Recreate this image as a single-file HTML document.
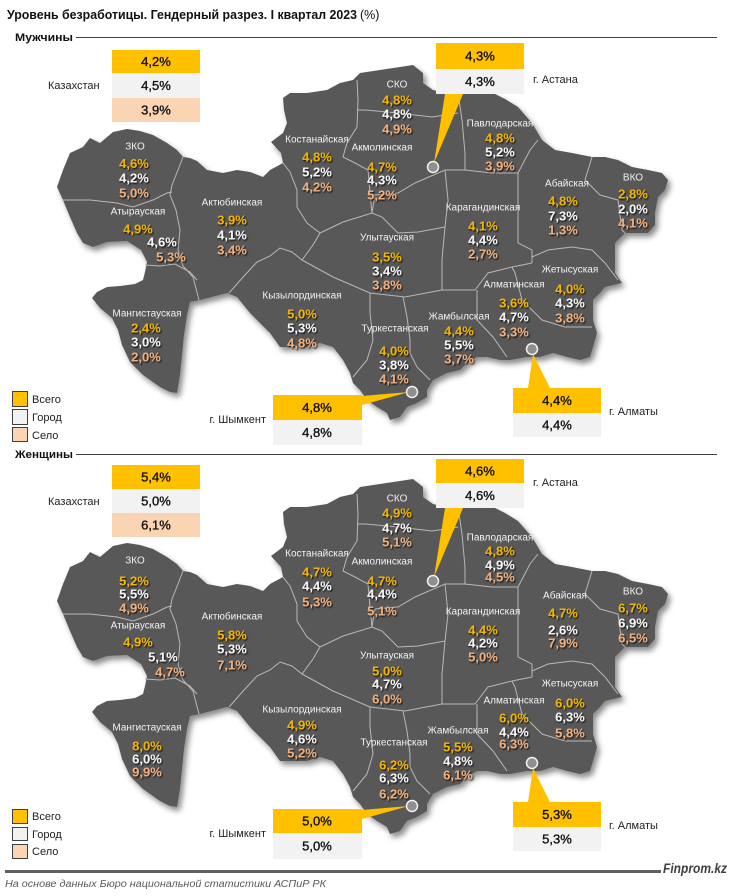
<!DOCTYPE html>
<html><head><meta charset="utf-8">
<style>
html,body{margin:0;padding:0;background:#fff;}
svg{display:block;}
.nm{font-family:"Liberation Sans",sans-serif;font-size:10px;fill:#f2f2f2;text-anchor:middle;}
.v{font-family:"Liberation Sans",sans-serif;font-size:13px;font-weight:bold;text-anchor:middle;}
.y{fill:#F2B400;}
.w{fill:#F4F4F4;}
.p{fill:#F0AE7C;}
.bx{font-family:"Liberation Sans",sans-serif;font-size:13px;fill:#111;stroke:#111;stroke-width:0.35;text-anchor:middle;}
.lb{font-family:"Liberation Sans",sans-serif;font-size:11px;fill:#222;}
.bd{fill:none;stroke:#b8b8b8;stroke-width:1;}
</style></head>
<body>
<svg width="731" height="896" viewBox="0 0 731 896" xmlns="http://www.w3.org/2000/svg">
<defs>
<filter id="sh" x="-10%" y="-10%" width="125%" height="125%">
<feDropShadow dx="3" dy="4" stdDeviation="3" flood-color="#000" flood-opacity="0.45"/>
</filter>
<filter id="ts" x="-20%" y="-30%" width="150%" height="170%">
<feDropShadow dx="1" dy="1.2" stdDeviation="0.9" flood-color="#000" flood-opacity="0.85"/>
</filter>
<g id="map">
<path filter="url(#sh)" fill="#595959" d="M113,132 L127,129 L140,131 L153,135 L167,143 L177,150 L183,157 L190,158 L197,161 L207,170 L223,173 L237,170 L250,172 L263,177 L270,170 L283,163 L281,153 L271,142 L283,133 L287,123 L284,110 L283,98 L290,93 L307,93 L327,90 L340,83 L353,80 L360,73 L380,70 L400,67 L413,65 L423,73 L423,83 L433,90 L445,93 L460,90 L477,90 L493,93 L505,99 L518,107 L532,123 L542,140 L555,150 L572,153 L592,157 L605,157 L618,160 L632,167 L648,170 L662,173 L668,180 L665,190 L658,197 L655,213 L655,225 L648,233 L625,233 L615,243 L615,273 L622,283 L605,287 L600,293 L593,300 L593,320 L597,333 L593,347 L590,357 L580,360 L567,357 L553,353 L540,357 L527,357 L510,360 L500,360 L487,357 L477,357 L467,363 L460,370 L447,373 L433,380 L427,390 L427,397 L417,403 L407,407 L400,417 L390,420 L387,413 L377,407 L367,400 L360,390 L353,383 L350,373 L343,360 L333,347 L320,343 L307,347 L280,347 L270,333 L250,313 L237,297 L227,293 L200,300 L190,302 L187,315 L184,335 L182,355 L180,375 L177,393 L170,392 L160,387 L143,375 L130,362 L122,345 L118,330 L112,318 L100,308 L92,298 L97,292 L107,287 L120,286 L135,284 L143,280 L145,272 L147,262 L141,250 L127,241 L107,242 L93,247 L83,243 L77,233 L70,217 L63,200 L57,187 L63,170 L70,153 L83,147 L90,138 L100,143 Z"/>
<polyline class="bd" points="63,200 90,200 117,203 133,207 153,200 167,193 172,192"/>
<polyline class="bd" points="183,157 178,170 172,185 170,195 176,210 180,230 178,250 183,266 193,277 199,300"/>
<polyline class="bd" points="145,265 160,266 175,264 190,272 197,280"/>
<polyline class="bd" points="283,163 290,172 297,190 297,207 307,223 320,233"/>
<polyline class="bd" points="229,293 245,275 257,262 270,256 280,248 292,252 302,260 313,245 320,233"/>
<polyline class="bd" points="357,80 358,100 357,127 347,143 343,157 355,163 368,170 370,193 372,213"/>
<polyline class="bd" points="320,233 343,222 372,213 382,217 398,233 418,232 445,227"/>
<polyline class="bd" points="302,260 333,277 370,293 405,297 442,290 475,290"/>
<polyline class="bd" points="445,227 442,260 442,290"/>
<polyline class="bd" points="372,213 375,195 398,193 415,183 445,170 465,170 492,173 518,173"/>
<polyline class="bd" points="445,170 448,200 445,227"/>
<polyline class="bd" points="370,293 370,313 373,340 367,360 353,377"/>
<polyline class="bd" points="403,297 407,317 410,340 410,353 417,367 430,380"/>
<polyline class="bd" points="477,290 477,320 493,337 507,357"/>
<polyline class="bd" points="475,290 488,273 512,267 532,263"/>
<polyline class="bd" points="532,263 532,250 518,243 518,220 518,173"/>
<polyline class="bd" points="518,173 530,150 538,140"/>
<polyline class="bd" points="532,257 548,250 572,247 592,250 605,263 618,280"/>
<polyline class="bd" points="512,267 515,273 522,300 542,320 565,327 592,327"/>
<polyline class="bd" points="592,157 585,180 600,195 618,200 622,230 625,233"/>
<polyline class="bd" points="357,110 365,110 398,113 432,117 458,113"/>
<polyline class="bd" points="458,93 462,120 465,153 465,170"/>
</g>
</defs>

<!-- Title -->
<text x="7" y="19" font-family="Liberation Sans, sans-serif" font-size="12.5" font-weight="bold" fill="#111" textLength="350" lengthAdjust="spacingAndGlyphs">Уровень безработицы. Гендерный разрез. I квартал 2023</text>
<text x="360" y="19" font-family="Liberation Sans, sans-serif" font-size="12.5" fill="#111">(%)</text>

<!-- Section headers -->
<text x="15" y="41" font-family="Liberation Sans, sans-serif" font-size="11" font-weight="bold" fill="#111" textLength="58" lengthAdjust="spacingAndGlyphs">Мужчины</text>
<line x1="76" y1="37.5" x2="717" y2="37.5" stroke="#404040" stroke-width="1"/>
<text x="15" y="458" font-family="Liberation Sans, sans-serif" font-size="11" font-weight="bold" fill="#111" textLength="58" lengthAdjust="spacingAndGlyphs">Женщины</text>
<line x1="76" y1="454.5" x2="717" y2="454.5" stroke="#404040" stroke-width="1"/>

<!-- Maps -->
<use href="#map"/>
<use href="#map" y="414"/>

<!-- TOP MAP labels -->
<g class="nm">
<text x="135" y="149.6">ЗКО</text>
<text x="138" y="214.6">Атырауская</text>
<text x="232" y="205.6">Актюбинская</text>
<text x="147" y="316.6">Мангистауская</text>
<text x="317" y="142.6">Костанайская</text>
<text x="302" y="298.6">Кызылординская</text>
<text x="397" y="87.6">СКО</text>
<text x="382" y="150.6">Акмолинская</text>
<text x="500" y="126.6">Павлодарская</text>
<text x="567" y="186.6">Абайская</text>
<text x="633" y="180.6">ВКО</text>
<text x="483" y="210.6">Карагандинская</text>
<text x="387" y="240.6">Улытауская</text>
<text x="570" y="272.6">Жетысуская</text>
<text x="514" y="287.6">Алматинская</text>
<text x="459" y="319.6">Жамбылская</text>
<text x="395" y="331.6">Туркестанская</text>
</g>
<g class="v" filter="url(#ts)">
<text class="y" x="134" y="168">4,6%</text><text class="w" x="134" y="182.5">4,2%</text><text class="p" x="134" y="197.5">5,0%</text>
<text class="y" x="138" y="233.5">4,9%</text><text class="w" x="162" y="246.5">4,6%</text><text class="p" x="171" y="261.5">5,3%</text>
<text class="y" x="232" y="224.5">3,9%</text><text class="w" x="232" y="239.5">4,1%</text><text class="p" x="232" y="254.5">3,4%</text>
<text class="y" x="146" y="332.5">2,4%</text><text class="w" x="146" y="346.5">3,0%</text><text class="p" x="146" y="361.5">2,0%</text>
<text class="y" x="317" y="161.5">4,8%</text><text class="w" x="317" y="176.5">5,2%</text><text class="p" x="317" y="191.5">4,2%</text>
<text class="y" x="302" y="318.5">5,0%</text><text class="w" x="302" y="332.5">5,3%</text><text class="p" x="302" y="347.5">4,8%</text>
<text class="y" x="397" y="104.5">4,8%</text><text class="w" x="397" y="118.5">4,8%</text><text class="p" x="397" y="133.5">4,9%</text>
<text class="y" x="382" y="171.5">4,7%</text><text class="w" x="382" y="184.5">4,3%</text><text class="p" x="382" y="199.5">5,2%</text>
<text class="y" x="500" y="142.5">4,8%</text><text class="w" x="500" y="156.5">5,2%</text><text class="p" x="500" y="170.5">3,9%</text>
<text class="y" x="563" y="205.5">4,8%</text><text class="w" x="563" y="220.5">7,3%</text><text class="p" x="563" y="234.5">1,3%</text>
<text class="y" x="633" y="198.5">2,8%</text><text class="w" x="633" y="213.5">2,0%</text><text class="p" x="633" y="227.5">4,1%</text>
<text class="y" x="483" y="230.5">4,1%</text><text class="w" x="483" y="244.5">4,4%</text><text class="p" x="483" y="258.5">2,7%</text>
<text class="y" x="387" y="261.5">3,5%</text><text class="w" x="387" y="275.5">3,4%</text><text class="p" x="387" y="289.5">3,8%</text>
<text class="y" x="570" y="293.5">4,0%</text><text class="w" x="570" y="307.5">4,3%</text><text class="p" x="570" y="322.5">3,8%</text>
<text class="y" x="514" y="307.5">3,6%</text><text class="w" x="514" y="321.5">4,7%</text><text class="p" x="514" y="336.5">3,3%</text>
<text class="y" x="459" y="335.5">4,4%</text><text class="w" x="459" y="349.5">5,5%</text><text class="p" x="459" y="363.5">3,7%</text>
<text class="y" x="394" y="355.5">4,0%</text><text class="w" x="394" y="369.5">3,8%</text><text class="p" x="394" y="383.5">4,1%</text>
</g>

<!-- BOTTOM MAP labels -->
<g class="nm">
<text x="135" y="563.6">ЗКО</text>
<text x="138" y="628.6">Атырауская</text>
<text x="232" y="619.6">Актюбинская</text>
<text x="147" y="730.6">Мангистауская</text>
<text x="317" y="556.6">Костанайская</text>
<text x="302" y="712.6">Кызылординская</text>
<text x="397" y="501.6">СКО</text>
<text x="382" y="564.6">Акмолинская</text>
<text x="500" y="540.6">Павлодарская</text>
<text x="565" y="598.6">Абайская</text>
<text x="633" y="594.6">ВКО</text>
<text x="483" y="614.6">Карагандинская</text>
<text x="387" y="658.6">Улытауская</text>
<text x="570" y="686.6">Жетысуская</text>
<text x="514" y="703.6">Алматинская</text>
<text x="458" y="733.6">Жамбылская</text>
<text x="394" y="745.6">Туркестанская</text>
</g>
<g class="v" filter="url(#ts)">
<text class="y" x="134" y="585.5">5,2%</text><text class="w" x="134" y="598.5">5,5%</text><text class="p" x="134" y="612.5">4,9%</text>
<text class="y" x="138" y="646.5">4,9%</text><text class="w" x="163" y="661.5">5,1%</text><text class="p" x="170" y="676.5">4,7%</text>
<text class="y" x="232" y="639.5">5,8%</text><text class="w" x="232" y="653.5">5,3%</text><text class="p" x="232" y="669.5">7,1%</text>
<text class="y" x="147" y="750.5">8,0%</text><text class="w" x="147" y="763.5">6,0%</text><text class="p" x="147" y="776.5">9,9%</text>
<text class="y" x="317" y="576.5">4,7%</text><text class="w" x="317" y="590.5">4,4%</text><text class="p" x="317" y="606.5">5,3%</text>
<text class="y" x="302" y="729.5">4,9%</text><text class="w" x="302" y="743.5">4,6%</text><text class="p" x="302" y="757.5">5,2%</text>
<text class="y" x="397" y="517.5">4,9%</text><text class="w" x="397" y="532.5">4,7%</text><text class="p" x="397" y="546.5">5,1%</text>
<text class="y" x="382" y="585.5">4,7%</text><text class="w" x="382" y="598.5">4,4%</text><text class="p" x="382" y="615.5">5,1%</text>
<text class="y" x="500" y="555.5">4,8%</text><text class="w" x="500" y="569.5">4,9%</text><text class="p" x="500" y="581.5">4,5%</text>
<text class="y" x="563" y="617.5">4,7%</text><text class="w" x="563" y="634.5">2,6%</text><text class="p" x="563" y="647.5">7,9%</text>
<text class="y" x="633" y="612.5">6,7%</text><text class="w" x="633" y="627.5">6,9%</text><text class="p" x="633" y="642.5">6,5%</text>
<text class="y" x="483" y="634.5">4,4%</text><text class="w" x="483" y="647.5">4,2%</text><text class="p" x="483" y="661.5">5,0%</text>
<text class="y" x="387" y="675.5">5,0%</text><text class="w" x="387" y="688.5">4,7%</text><text class="p" x="387" y="703.5">6,0%</text>
<text class="y" x="570" y="707.5">6,0%</text><text class="w" x="570" y="721.5">6,3%</text><text class="p" x="570" y="737.5">5,8%</text>
<text class="y" x="514" y="722.5">6,0%</text><text class="w" x="514" y="736.5">4,4%</text><text class="p" x="514" y="748.5">6,3%</text>
<text class="y" x="458" y="751.5">5,5%</text><text class="w" x="458" y="765.5">4,8%</text><text class="p" x="458" y="779.5">6,1%</text>
<text class="y" x="394" y="769.5">6,2%</text><text class="w" x="394" y="782.5">6,3%</text><text class="p" x="394" y="798.5">6,2%</text>
</g>

<!-- Pointers and dots top -->
<polygon points="445,94 463,94 434,163" fill="#FFC000"/>
<polygon points="362,396 362,405 409,392" fill="#FFC000"/>
<polygon points="528,388 550,388 533,354" fill="#FFC000"/>
<circle cx="433" cy="167" r="5.5" fill="#8f8f8f" stroke="#f2f2f2" stroke-width="1.5"/>
<circle cx="412" cy="392" r="5.5" fill="#8f8f8f" stroke="#f2f2f2" stroke-width="1.5"/>
<circle cx="532" cy="349" r="5.5" fill="#8f8f8f" stroke="#f2f2f2" stroke-width="1.5"/>
<!-- Pointers and dots bottom -->
<polygon points="445,508 463,508 434,577" fill="#FFC000"/>
<polygon points="362,810 362,819 409,806" fill="#FFC000"/>
<polygon points="528,802 550,802 533,768" fill="#FFC000"/>
<circle cx="433" cy="581" r="5.5" fill="#8f8f8f" stroke="#f2f2f2" stroke-width="1.5"/>
<circle cx="412" cy="806" r="5.5" fill="#8f8f8f" stroke="#f2f2f2" stroke-width="1.5"/>
<circle cx="532" cy="763" r="5.5" fill="#8f8f8f" stroke="#f2f2f2" stroke-width="1.5"/>

<!-- TOP boxes -->
<rect x="112" y="50" width="88" height="23" fill="#FFC000"/>
<rect x="112" y="73" width="88" height="25" fill="#F2F2F2"/>
<rect x="112" y="98" width="88" height="24" fill="#FBD4B4"/>
<text class="bx" x="156" y="66">4,2%</text>
<text class="bx" x="156" y="90">4,5%</text>
<text class="bx" x="156" y="114.5">3,9%</text>
<text class="lb" x="48" y="89">Казахстан</text>

<rect x="436" y="43" width="88" height="26" fill="#FFC000"/>
<rect x="436" y="69" width="88" height="25" fill="#F2F2F2"/>
<text class="bx" x="480" y="60.5">4,3%</text>
<text class="bx" x="480" y="86">4,3%</text>
<text class="lb" x="533" y="83">г. Астана</text>

<rect x="273" y="395" width="89" height="25" fill="#FFC000"/>
<rect x="273" y="420" width="89" height="25" fill="#F2F2F2"/>
<text class="bx" x="317" y="412">4,8%</text>
<text class="bx" x="317" y="437">4,8%</text>
<text class="lb" x="266" y="423" text-anchor="end">г. Шымкент</text>

<rect x="513" y="388" width="88" height="25" fill="#FFC000"/>
<rect x="513" y="413" width="88" height="24" fill="#F2F2F2"/>
<text class="bx" x="557" y="405">4,4%</text>
<text class="bx" x="557" y="429.5">4,4%</text>
<text class="lb" x="609" y="415">г. Алматы</text>

<!-- BOTTOM boxes -->
<rect x="112" y="465" width="88" height="24" fill="#FFC000"/>
<rect x="112" y="489" width="88" height="24" fill="#F2F2F2"/>
<rect x="112" y="513" width="88" height="24" fill="#FBD4B4"/>
<text class="bx" x="156" y="481.5">5,4%</text>
<text class="bx" x="156" y="505.5">5,0%</text>
<text class="bx" x="156" y="529.5">6,1%</text>
<text class="lb" x="48" y="505">Казахстан</text>

<rect x="436" y="459" width="88" height="24" fill="#FFC000"/>
<rect x="436" y="483" width="88" height="25" fill="#F2F2F2"/>
<text class="bx" x="480" y="475.5">4,6%</text>
<text class="bx" x="480" y="500">4,6%</text>
<text class="lb" x="533" y="486">г. Астана</text>

<rect x="273" y="809" width="89" height="24" fill="#FFC000"/>
<rect x="273" y="833" width="89" height="26" fill="#F2F2F2"/>
<text class="bx" x="317" y="825.5">5,0%</text>
<text class="bx" x="317" y="850.5">5,0%</text>
<text class="lb" x="266" y="837" text-anchor="end">г. Шымкент</text>

<rect x="513" y="802" width="88" height="25" fill="#FFC000"/>
<rect x="513" y="827" width="88" height="24" fill="#F2F2F2"/>
<text class="bx" x="557" y="819">5,3%</text>
<text class="bx" x="557" y="843.5">5,3%</text>
<text class="lb" x="609" y="829">г. Алматы</text>

<!-- Legends -->
<rect x="12.5" y="391.5" width="15" height="15" fill="#FFC000" stroke="#404040"/>
<rect x="12.5" y="409.5" width="15" height="15" fill="#F2F2F2" stroke="#404040"/>
<rect x="12.5" y="427.5" width="15" height="14" fill="#FBD4B4" stroke="#404040"/>
<text class="lb" x="32" y="403">Всего</text>
<text class="lb" x="32" y="421">Город</text>
<text class="lb" x="32" y="439">Село</text>

<rect x="12.5" y="809.5" width="15" height="14" fill="#FFC000" stroke="#404040"/>
<rect x="12.5" y="827.5" width="15" height="13" fill="#F2F2F2" stroke="#404040"/>
<rect x="12.5" y="844.5" width="15" height="14" fill="#FBD4B4" stroke="#404040"/>
<text class="lb" x="32" y="820">Всего</text>
<text class="lb" x="32" y="838">Город</text>
<text class="lb" x="32" y="855">Село</text>

<!-- Footer -->
<line x1="5" y1="871.5" x2="661" y2="871.5" stroke="#606060" stroke-width="3"/>
<text x="663" y="873" font-family="Liberation Sans, sans-serif" font-size="14" font-weight="bold" font-style="italic" fill="#404040" textLength="64" lengthAdjust="spacingAndGlyphs">Finprom.kz</text>
<text x="5" y="887" font-family="Liberation Sans, sans-serif" font-size="10.5" font-style="italic" fill="#595959" textLength="321" lengthAdjust="spacingAndGlyphs">На основе данных Бюро национальной статистики АСПиР РК</text>
</svg>
</body></html>
